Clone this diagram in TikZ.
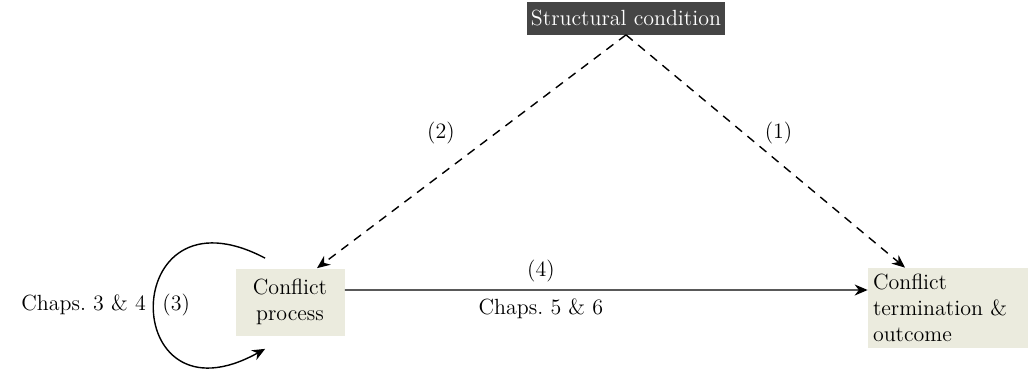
\documentclass[tikz,border=0pt]{standalone}
\usepackage{tikz}
\usetikzlibrary{positioning,arrows.meta}

\definecolor{darkbox}{HTML}{454545}
\definecolor{paper}{HTML}{EBEBDE}

\begin{document}
\begin{tikzpicture}[every node/.style={font=\fontsize{12.5pt}{15pt}\selectfont}]
\tikzset{
  box/.style={fill=paper, align=center, inner sep=3pt},
  topbox/.style={fill=darkbox, text=white, minimum width=3.9cm, minimum height=0.66cm, inner xsep=2pt, inner ysep=1pt},
  arrow/.style={-{Stealth[length=2.6mm, width=2.2mm]}, line width=0.8pt},
  dasharrow/.style={arrow, dashed, dash pattern=on 5pt off 4pt}
}
\useasboundingbox (0,0) rectangle (20.56,7.38);

% Nodes
\node[topbox] (cond) at (12.52,7.02) {Structural condition};
\node[box, minimum width=2.18cm, minimum height=1.34cm] (proc) at (5.8,1.34) {Conflict\\process};
\node[box, align=left, text width=3.0cm, inner xsep=0.1cm, minimum height=1.6cm] (term) at (18.96,1.22) {Conflict\\termination \&\\outcome};

% Arrows
\draw[dasharrow] (cond.south) -- node[pos=0.42, left=0.7cm] {(2)} ([xshift=0.54cm]proc.north);
\draw[dasharrow] (cond.south) -- node[pos=0.42, right=0.3cm] {(1)} ([xshift=-0.86cm]term.north);
\draw[arrow] ([yshift=0.24cm]proc.east) -- node[pos=0.375, above=1pt] {(4)} node[pos=0.375, below=1pt] {Chaps.\ 5 \& 6} ([yshift=0.36cm]term.west);
\draw[arrow] ([xshift=0.6cm, yshift=0.2cm]proc.north west) .. controls +(-2.96cm,1.56cm) and +(-2.96cm,-1.64cm) .. node[pos=0.5, right=1pt] {(3)} node[pos=0.5, left=1pt] {Chaps.\ 3 \& 4} ([xshift=0.6cm, yshift=-0.26cm]proc.south west);
\end{tikzpicture}
\end{document}
